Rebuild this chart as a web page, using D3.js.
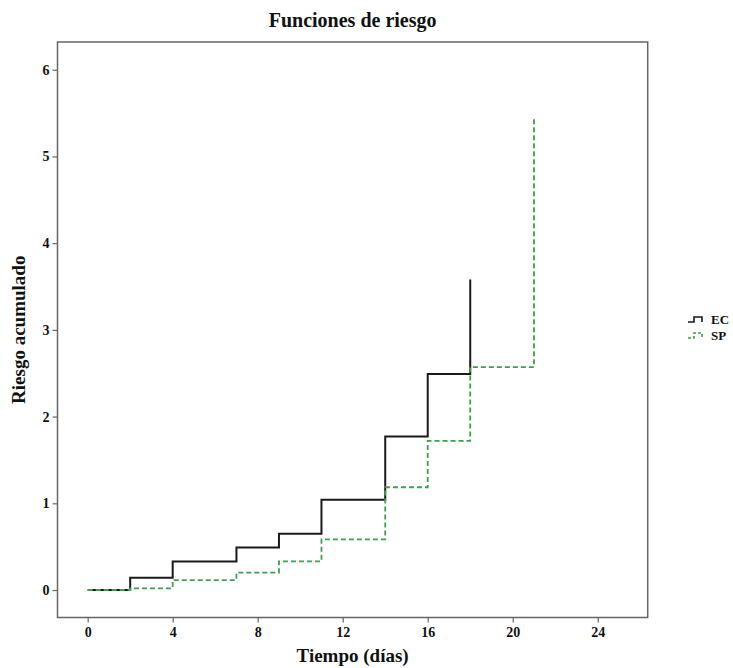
<!DOCTYPE html>
<html>
<head>
<meta charset="utf-8">
<script src="https://cdn.jsdelivr.net/npm/d3@7"></script>
<style>
  body { margin: 0; background: #fff; }
  text { font-family: "Liberation Serif", "Times New Roman", serif; font-weight: bold; fill: #111; }
</style>
</head>
<body>
<svg id="chart" width="733" height="668"></svg>
<script>
// Data
const ecTimes  = [0, 2, 4, 7, 9, 11, 14, 16, 18];
const ecValues = [0, 0.14, 0.33, 0.49, 0.65, 1.04, 1.77, 2.49, 3.58];
const spTimes  = [0, 2, 4, 7, 9, 11, 14, 16, 18, 21];
const spValues = [0, 0.02, 0.115, 0.2, 0.33, 0.585, 1.185, 1.72, 2.57, 5.44];
const xTicks = [0, 4, 8, 12, 16, 20, 24];
const yTicks = [0, 1, 2, 3, 4, 5, 6];
const seriesNames = ["EC", "SP"];

const svg = d3.select("#chart");
const plot = { left: 57.5, right: 647.7, top: 42, bottom: 617.5 };

const x = d3.scaleLinear().domain([-1.42, 26.35]).range([plot.left, plot.right]);
const y = d3.scaleLinear().domain([-0.317, 6.32]).range([plot.bottom, plot.top]);

// Frame
svg.append("rect")
  .attr("x", plot.left).attr("y", plot.top)
  .attr("width", plot.right - plot.left).attr("height", plot.bottom - plot.top)
  .attr("fill", "none").attr("stroke", "#666").attr("stroke-width", 1.5);

// Axes
const xAxis = svg.append("g").attr("transform", `translate(0,${plot.bottom})`)
  .call(d3.axisBottom(x).tickValues(xTicks).tickFormat(d3.format("d")).tickSize(5).tickPadding(5));
const yAxis = svg.append("g").attr("transform", `translate(${plot.left},0)`)
  .call(d3.axisLeft(y).tickValues(yTicks).tickFormat(d3.format("d")).tickSize(5).tickPadding(3));
[xAxis, yAxis].forEach(a => {
  a.attr("font-size", null).attr("font-family", null);
  a.select(".domain").remove();
  a.selectAll(".tick line").attr("stroke", "#666").attr("stroke-width", 1.2);
  a.selectAll(".tick text")
    .style("font-family", '"Liberation Serif", "Times New Roman", serif')
    .style("font-weight", "bold").style("font-size", "14px").attr("fill", "#111");
});

// Step line builder
function stepPoints(times, values) {
  const pts = [];
  for (let i = 0; i < times.length; i++) {
    if (i > 0) pts.push([times[i], values[i - 1]]);
    pts.push([times[i], values[i]]);
  }
  return pts;
}
const line = d3.line().x(d => x(d[0])).y(d => y(d[1]));

svg.append("path")
  .datum(stepPoints(ecTimes, ecValues))
  .attr("d", line)
  .attr("fill", "none")
  .attr("stroke", "#1a1a1a")
  .attr("stroke-width", 2);

svg.append("path")
  .datum(stepPoints(spTimes, spValues))
  .attr("d", line)
  .attr("fill", "none")
  .attr("stroke", "#3f9e52")
  .attr("stroke-width", 1.8)
  .attr("stroke-dasharray", "5,3");

// Title & axis labels
svg.append("text").attr("x", 352.6).attr("y", 27)
  .attr("text-anchor", "middle").style("font-size", "20px")
  .text("Funciones de riesgo");
svg.append("text").attr("x", 352.6).attr("y", 662)
  .attr("text-anchor", "middle").style("font-size", "19px")
  .text("Tiempo (días)");
svg.append("text")
  .attr("transform", `translate(25,${(plot.top + plot.bottom) / 2}) rotate(-90)`)
  .attr("text-anchor", "middle").style("font-size", "19px")
  .text("Riesgo acumulado");

// Legend
const legend = svg.append("g").attr("transform", "translate(688,314)");
const legendColors = ["#1a1a1a", "#3f9e52"];
const legendDash = [null, "3,2"];
seriesNames.forEach((name, i) => {
  const g = legend.append("g").attr("transform", `translate(0,${i * 16})`);
  g.append("path")
    .attr("d", "M0,8 H6 V3 H14 V8")
    .attr("fill", "none")
    .attr("stroke", legendColors[i])
    .attr("stroke-width", 1.6)
    .attr("stroke-dasharray", legendDash[i]);
  g.append("text").attr("x", 23).attr("y", 10)
    .style("font-size", "13px").text(name);
});
</script>
</body>
</html>
